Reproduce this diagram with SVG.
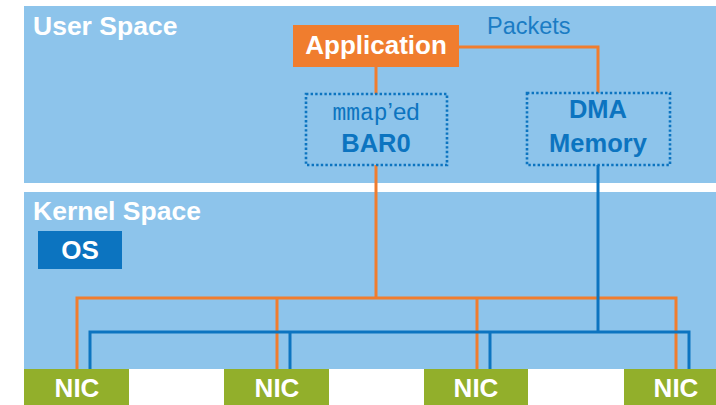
<svg xmlns="http://www.w3.org/2000/svg" width="716" height="405" viewBox="0 0 716 405">
  <style>
    .panel { fill: #8DC4EB; }
    .plabel { font-family: "Liberation Sans", Arial, sans-serif; font-weight: bold; font-size: 26.5px; fill: #FFFFFF; }
    .wlabel { font-family: "Liberation Sans", Arial, sans-serif; font-weight: bold; font-size: 26px; fill: #FFFFFF; text-anchor: middle; }
    .blabel { font-family: "Liberation Sans", Arial, sans-serif; font-weight: bold; font-size: 25.5px; fill: #0C74C0; text-anchor: middle; }
    .mem { fill: none; stroke: #0C74C0; stroke-width: 2.6; stroke-dasharray: 2.4 2.2; }
    .nic { fill: #92AF2B; }
    .orange { fill: none; stroke: #F07D2E; stroke-width: 3; }
    .blue { fill: none; stroke: #0C74C0; stroke-width: 3; }
  </style>

  <rect width="716" height="405" fill="#FFFFFF"/>

  <!-- address-space panels -->
  <g id="user-space">
    <rect class="panel" x="24" y="6" width="692" height="177"/>
    <text class="plabel" x="33" y="35">User Space</text>
  </g>
  <g id="kernel-space">
    <rect class="panel" x="24" y="192" width="692" height="177"/>
    <text class="plabel" x="33" y="220">Kernel Space</text>
  </g>

  <!-- connectors -->
  <g id="connectors">
    <!-- control path: application -> BAR0 -> NICs -->
    <path class="orange" d="M376 67 V94"/>
    <path class="orange" d="M376 165 V298"/>
    <path class="orange" d="M77 369 V298 H676 V369"/>
    <path class="orange" d="M277 298 V369"/>
    <path class="orange" d="M477 298 V369"/>
    <!-- packet path: application -> DMA memory -> NICs -->
    <path class="orange" d="M459 47 H598 V93"/>
    <path class="blue" d="M598 165 V332"/>
    <path class="blue" d="M90 369 V332 H689 V369"/>
    <path class="blue" d="M290 332 V369"/>
    <path class="blue" d="M490 332 V369"/>
  </g>

  <text x="487" y="34" font-family="'Liberation Sans', Arial, sans-serif" font-size="23.5" fill="#1A7CC4">Packets</text>

  <g id="application">
    <rect x="293" y="25" width="166" height="42" fill="#F07D2E"/>
    <text class="wlabel" x="376" y="54">Application</text>
  </g>

  <g id="bar0">
    <rect class="mem" x="306" y="94" width="141" height="71"/>
    <text x="376" y="120" text-anchor="middle" fill="#0C74C0" font-family="'Liberation Sans', Arial, sans-serif" font-size="24"><tspan font-family="'Liberation Mono', 'Courier New', monospace" font-size="23">mmap</tspan>’ed</text>
    <text class="blabel" x="376" y="152">BAR0</text>
  </g>

  <g id="dma-memory">
    <rect class="mem" x="527" y="93" width="143" height="72"/>
    <text class="blabel" x="598" y="118">DMA</text>
    <text class="blabel" x="598" y="152">Memory</text>
  </g>

  <g id="os">
    <rect x="38" y="231" width="84" height="38" fill="#0C74C0"/>
    <text class="wlabel" x="80" y="259">OS</text>
  </g>

  <g id="nic-1">
    <rect class="nic" x="24" y="369" width="105" height="36"/>
    <text class="wlabel" x="77" y="397">NIC</text>
  </g>
  <g id="nic-2">
    <rect class="nic" x="224" y="369" width="105" height="36"/>
    <text class="wlabel" x="277" y="397">NIC</text>
  </g>
  <g id="nic-3">
    <rect class="nic" x="424" y="369" width="104" height="36"/>
    <text class="wlabel" x="476" y="397">NIC</text>
  </g>
  <g id="nic-4">
    <rect class="nic" x="624" y="369" width="105" height="36"/>
    <text class="wlabel" x="676" y="397">NIC</text>
  </g>
</svg>
